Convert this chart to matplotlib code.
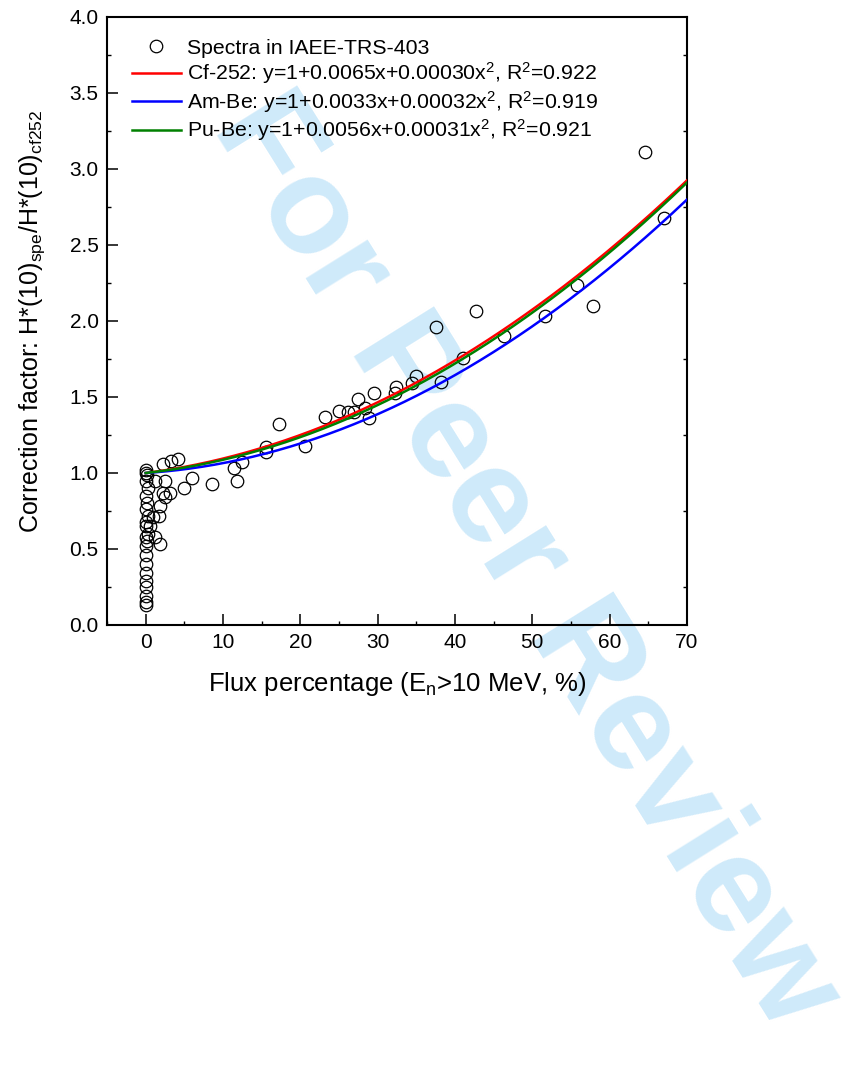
import matplotlib
matplotlib.use("Agg")
import matplotlib.pyplot as plt
import numpy as np
from matplotlib.ticker import MultipleLocator, FormatStrFormatter

plt.rcParams['font.family'] = ['Liberation Sans', 'DejaVu Sans']
plt.rcParams['mathtext.default'] = 'regular'

# Scatter data: spectra in IAEA-TRS-403
spec_x = [0.0, 0.1, 0.2, 0.0, 0.3, 0.0, 0.2, 0.0, 0.3, 0.0, 0.1, 0.3, 0.0, 0.2, 0.0,
          0.0, 0.0, 0.1, 0.0, 0.0, 0.0, 0.0, 0.0,
          0.6, 1.0, 1.2, 1.2, 1.7, 1.8, 1.9, 2.2, 2.3, 2.55, 2.55, 3.2, 3.3, 4.2,
          5.0, 6.0, 8.6, 11.4, 11.8, 12.4,
          15.6, 15.6, 17.3, 20.6, 23.2, 25.0, 26.1, 27.0, 27.4, 28.4, 28.9, 29.5,
          32.2, 32.4, 34.4, 35.0, 37.6, 38.2, 41.0, 42.7, 46.4, 51.6, 55.8, 57.9,
          64.6, 67.0]
spec_y = [1.02, 1.00, 0.99, 0.95, 0.90, 0.85, 0.80, 0.76, 0.72, 0.68, 0.65, 0.60, 0.58, 0.55, 0.52,
          0.46, 0.40, 0.34, 0.29, 0.25, 0.19, 0.15, 0.13,
          0.65, 0.71, 0.95, 0.58, 0.72, 0.53, 0.78, 1.06, 0.87, 0.95, 0.84, 0.87, 1.08, 1.09,
          0.90, 0.97, 0.93, 1.03, 0.95, 1.07,
          1.14, 1.17, 1.32, 1.18, 1.37, 1.41, 1.40, 1.40, 1.485, 1.43, 1.36, 1.524,
          1.524, 1.568, 1.594, 1.64, 1.96, 1.597, 1.755, 2.066, 1.90, 2.03, 2.24, 2.10,
          3.11, 2.68]

# Fit coefficients for y = 1 + a*x + b*x^2
fit_names = ['Cf-252', 'Am-Be', 'Pu-Be']
fit_a = [0.0065, 0.0033, 0.0056]
fit_b = [0.00030, 0.00032, 0.00031]
fit_r2 = ['0.922', '0.919', '0.921']
fit_astr = ['0.0065', '0.0033', '0.0056']
fit_bstr = ['0.00030', '0.00032', '0.00031']
fit_colors = ['#ff0000', '#0000ff', '#008000']

fig = plt.figure(figsize=(8.65, 10.78), dpi=100)

# watermark (behind the axes)
fig.text(0.607, 0.478, 'For Peer Review', fontsize=99, fontweight='bold',
         color='#cfeafa', rotation=-58, ha='center', va='center',
         rotation_mode='anchor', zorder=-1)

ax = fig.add_axes([107/865, 1-625/1078, 580/865, 608/1078])
ax.patch.set_alpha(0)

ax.plot(spec_x, spec_y, linestyle='none', marker='o', markersize=9,
        markerfacecolor='none', markeredgecolor='black', markeredgewidth=0.9,
        label='Spectra in IAEE-TRS-403', zorder=3)

xs = np.linspace(0, 70, 300)
for name, a, b, r2, c, astr, bstr in zip(fit_names, fit_a, fit_b, fit_r2, fit_colors, fit_astr, fit_bstr):
    ax.plot(xs, 1 + a*xs + b*xs**2, color=c, lw=1.8,
            label=f'{name}: y=1+{astr}x+{bstr}x$^2$, R$^2$={r2}', zorder=4)

ax.set_xlim(-5, 70)
ax.set_ylim(0, 4.0)
ax.xaxis.set_major_locator(MultipleLocator(10))
ax.xaxis.set_minor_locator(MultipleLocator(5))
ax.yaxis.set_major_locator(MultipleLocator(0.5))
ax.yaxis.set_minor_locator(MultipleLocator(0.25))
ax.yaxis.set_major_formatter(FormatStrFormatter('%.1f'))
ax.tick_params(which='major', direction='in', length=8, width=1.1, labelsize=15,
               top=False, right=False, pad=6)
ax.tick_params(which='minor', direction='in', length=3, width=1.0, top=False, right=True)
for s in ax.spines.values():
    s.set_linewidth(1.5)

ax.set_xlabel('Flux percentage (E$_n$>10 MeV, %)', fontsize=18.5, labelpad=13)
ax.set_ylabel('Correction factor: H*(10)$_{spe}$/H*(10)$_{cf252}$', fontsize=18, labelpad=16)

leg = ax.legend(loc='upper left', bbox_to_anchor=(0.043, 0.964), frameon=False,
                fontsize=15.3, handlelength=2.3, handletextpad=0.3,
                labelspacing=0.12, borderaxespad=0, borderpad=0)

fig.savefig('out.png', dpi=100)
